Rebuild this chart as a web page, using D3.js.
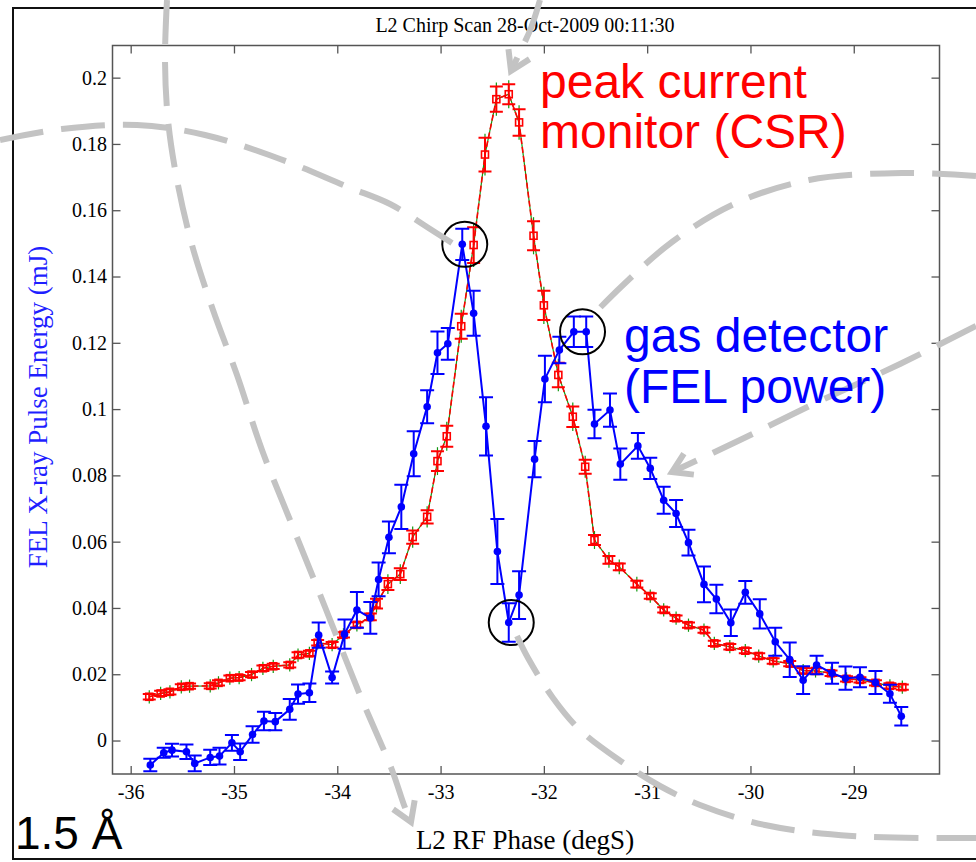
<!DOCTYPE html>
<html><head><meta charset="utf-8">
<script src="https://cdn.jsdelivr.net/npm/d3@7"></script>
<style>body{margin:0;background:#fff}svg{display:block}</style>
</head><body>
<svg id="c" width="976" height="862"></svg>
<script>
// ---------- data ----------
const titleText = "L2 Chirp Scan 28-Oct-2009 00:11:30";
const xLabelText = "L2 RF Phase (degS)";
const yLabelText = "FEL X-ray Pulse Energy (mJ)";
const xTicks = [-36, -35, -34, -33, -32, -31, -30, -29];
const yTicks = [0, 0.02, 0.04, 0.06, 0.08, 0.1, 0.12, 0.14, 0.16, 0.18, 0.2];

// gas detector (FEL power), blue
const gasPhase = [-35.81,-35.68,-35.60,-35.46,-35.38,-35.23,-35.14,-35.02,-34.94,-34.82,-34.71,-34.60,-34.46,-34.38,-34.27,-34.18,-34.05,-33.93,-33.81,-33.68,-33.60,-33.50,-33.38,-33.26,-33.13,-33.03,-32.93,-32.79,-32.68,-32.56,-32.45,-32.34,-32.24,-32.09,-31.99,-31.85,-31.71,-31.59,-31.51,-31.36,-31.26,-31.09,-30.97,-30.84,-30.72,-30.60,-30.45,-30.33,-30.19,-30.05,-29.91,-29.76,-29.62,-29.49,-29.36,-29.21,-29.08,-28.94,-28.79,-28.65,-28.54];
const gasEnergy = [-0.0074,-0.0037,-0.0029,-0.0034,-0.0069,-0.0051,-0.0047,-0.0007,-0.0034,0.0018,0.0059,0.0057,0.0094,0.0140,0.0144,0.0318,0.0190,0.0321,0.0394,0.0370,0.0486,0.0613,0.0705,0.0865,0.1007,0.1170,0.1197,0.1497,0.1289,0.0948,0.0570,0.0356,0.0439,0.0849,0.1091,0.1178,0.1233,0.1233,0.0955,0.0997,0.0834,0.0889,0.0821,0.0725,0.0685,0.0597,0.0471,0.0427,0.0355,0.0447,0.0382,0.0298,0.0244,0.0182,0.0228,0.0203,0.0188,0.0191,0.0175,0.0141,0.0073];
const gasErr = [0.0019,0.0015,0.0019,0.0022,0.0024,0.0023,0.0025,0.0024,0.0025,0.0025,0.0028,0.0026,0.0031,0.0029,0.0028,0.0038,0.0018,0.0044,0.0054,0.0048,0.0051,0.0048,0.0067,0.0068,0.0050,0.0064,0.0048,0.0047,0.0068,0.0088,0.0098,0.0058,0.0072,0.0055,0.0070,0.0040,0.0046,0.0046,0.0043,0.0050,0.0047,0.0039,0.0032,0.0041,0.0041,0.0039,0.0054,0.0043,0.0040,0.0034,0.0044,0.0042,0.0052,0.0042,0.0028,0.0032,0.0035,0.0030,0.0035,0.0027,0.0028];

// peak current monitor (CSR), red
const csrPhase = [-35.82,-35.71,-35.62,-35.51,-35.43,-35.23,-35.15,-35.04,-34.95,-34.83,-34.72,-34.62,-34.46,-34.38,-34.27,-34.19,-34.05,-33.94,-33.81,-33.68,-33.62,-33.51,-33.39,-33.27,-33.13,-33.03,-32.94,-32.80,-32.68,-32.57,-32.46,-32.34,-32.24,-32.10,-32.00,-31.86,-31.72,-31.60,-31.51,-31.37,-31.27,-31.10,-30.97,-30.84,-30.72,-30.60,-30.45,-30.35,-30.20,-30.05,-29.92,-29.78,-29.62,-29.49,-29.37,-29.22,-29.07,-28.94,-28.79,-28.65,-28.53];
const csrSignal = [0.0132,0.0142,0.0147,0.0162,0.0164,0.0165,0.0174,0.0188,0.0190,0.0199,0.0218,0.0224,0.0228,0.0258,0.0263,0.0295,0.0289,0.0319,0.0349,0.0373,0.0413,0.0472,0.0502,0.0614,0.0675,0.0843,0.0918,0.1250,0.1495,0.1768,0.1935,0.1950,0.1865,0.1523,0.1313,0.1103,0.0977,0.0826,0.0605,0.0545,0.0524,0.0472,0.0436,0.0394,0.0369,0.0348,0.0333,0.0293,0.0283,0.0271,0.0255,0.0240,0.0232,0.0211,0.0210,0.0203,0.0186,0.0183,0.0174,0.0165,0.0161];
const csrErr = [0.0008,0.0008,0.0008,0.0008,0.0008,0.0008,0.0008,0.0008,0.0008,0.0008,0.0008,0.0008,0.0008,0.0008,0.0008,0.0008,0.0008,0.0008,0.0008,0.0010,0.0015,0.0018,0.0018,0.0020,0.0020,0.0030,0.0032,0.0038,0.0054,0.0051,0.0038,0.0030,0.0040,0.0044,0.0044,0.0037,0.0031,0.0021,0.0015,0.0012,0.0010,0.0010,0.0008,0.0008,0.0008,0.0008,0.0008,0.0008,0.0008,0.0008,0.0008,0.0008,0.0008,0.0008,0.0008,0.0008,0.0008,0.0008,0.0008,0.0008,0.0008];

// highlighted points (circled)
const circledPhase = [-32.79, -31.65, -32.34];
const circledEnergy = [0.1497, 0.1233, 0.0356];

// annotation labels
const csrLabelLines = ["peak current", "monitor (CSR)"];
const gasLabelLines = ["gas detector", "(FEL power)"];
const waveLabel = "1.5 Å";

// ---------- drawing ----------
const svg = d3.select("#c");
const L = 112.5, R = 939.5, T = 45.5, B = 774;
const x = d3.scaleLinear().domain([-36.176, -28.17]).range([L, R]);
const y = d3.scaleLinear().domain([-0.0101, 0.2097]).range([B, T]);
const serif = "'Liberation Serif','Times New Roman',Times,serif";
const sans = "'Liberation Sans',Arial,Helvetica,sans-serif";
const axisCol = "#555";

// outer frame
svg.append("rect").attr("x", 13).attr("y", 8).attr("width", 1000).attr("height", 851)
  .attr("fill", "none").attr("stroke", "#111").attr("stroke-width", 2);

// axes
function styleAxis(g) {
  g.select(".domain").remove();
  g.selectAll(".tick line").attr("stroke", axisCol).attr("stroke-width", 1.3);
  g.selectAll("text").attr("font-family", serif).attr("font-size", 20).attr("fill", "#000");
}
svg.append("g").attr("transform", `translate(0,${B})`)
  .call(d3.axisBottom(x).tickValues(xTicks).tickSizeInner(-8).tickSizeOuter(0).tickPadding(11).tickFormat(d => String(d)))
  .call(styleAxis);
svg.append("g").attr("transform", `translate(0,${T})`)
  .call(d3.axisTop(x).tickValues(xTicks).tickSizeInner(-8).tickSizeOuter(0).tickFormat(""))
  .call(styleAxis);
svg.append("g").attr("transform", `translate(${L},0)`)
  .call(d3.axisLeft(y).tickValues(yTicks).tickSizeInner(-8).tickSizeOuter(0).tickPadding(5.5).tickFormat(d => d === 0 ? "0" : String(+d.toFixed(2))))
  .call(styleAxis);
svg.append("g").attr("transform", `translate(${R},0)`)
  .call(d3.axisRight(y).tickValues(yTicks).tickSizeInner(-8).tickSizeOuter(0).tickFormat(""))
  .call(styleAxis);
svg.append("rect").attr("x", L).attr("y", T).attr("width", R - L).attr("height", B - T)
  .attr("fill", "none").attr("stroke", axisCol).attr("stroke-width", 1.5);

// titles
svg.append("text").attr("x", 525).attr("y", 32).attr("text-anchor", "middle")
  .attr("font-family", serif).attr("font-size", 20).text(titleText);
svg.append("text").attr("x", 525).attr("y", 849).attr("text-anchor", "middle")
  .attr("font-family", serif).attr("font-size", 27).text(xLabelText);
svg.append("text").attr("transform", "translate(47,407) rotate(-90)").attr("text-anchor", "middle")
  .attr("font-family", serif).attr("font-size", 27).attr("fill", "#1f1fff").text(yLabelText);

// series data
const csr = csrPhase.map((p, i) => ({ p, v: csrSignal[i], e: csrErr[i] }));
const gas = gasPhase.map((p, i) => ({ p, v: gasEnergy[i], e: gasErr[i] }));
const line = d3.line().x(d => x(d.p)).y(d => y(d.v));

// CSR: green underlay
const gG = svg.append("g");
gG.append("path").datum(csr).attr("d", line).attr("fill", "none").attr("stroke", "#119911").attr("stroke-width", 1.2);
gG.selectAll("line").data(csr).join("line")
  .attr("x1", d => x(d.p)).attr("x2", d => x(d.p))
  .attr("y1", d => y(d.v + d.e + 0.0012)).attr("y2", d => y(d.v - d.e - 0.0012))
  .attr("stroke", "#119911").attr("stroke-width", 1.2);

// CSR red
const gR = svg.append("g");
gR.append("path").datum(csr).attr("d", line).attr("fill", "none").attr("stroke", "#ff0000")
  .attr("stroke-width", 1.6).attr("stroke-dasharray", "6,3");
const capR = 6.5;
gR.selectAll(".eb").data(csr).join("path").attr("class", "eb")
  .attr("d", d => {
    const cx = x(d.p), y1 = y(d.v + d.e), y2 = y(d.v - d.e);
    return `M${cx},${y1}V${y2}M${cx - capR},${y1}H${cx + capR}M${cx - capR},${y2}H${cx + capR}`;
  })
  .attr("fill", "none").attr("stroke", "#ff0000").attr("stroke-width", 2);
gR.selectAll(".mk").data(csr).join("rect").attr("class", "mk")
  .attr("x", d => x(d.p) - 3.5).attr("y", d => y(d.v) - 3.5).attr("width", 7).attr("height", 7)
  .attr("fill", "none").attr("stroke", "#ff0000").attr("stroke-width", 1.6);

// gas detector blue
const gB = svg.append("g");
gB.append("path").datum(gas).attr("d", line).attr("fill", "none").attr("stroke", "#0000ff").attr("stroke-width", 2);
const capB = 7;
gB.selectAll(".eb").data(gas).join("path").attr("class", "eb")
  .attr("d", d => {
    const cx = x(d.p), y1 = y(d.v + d.e), y2 = y(d.v - d.e);
    return `M${cx},${y1}V${y2}M${cx - capB},${y1}H${cx + capB}M${cx - capB},${y2}H${cx + capB}`;
  })
  .attr("fill", "none").attr("stroke", "#0000ff").attr("stroke-width", 2);
gB.selectAll("circle").data(gas).join("circle")
  .attr("cx", d => x(d.p)).attr("cy", d => y(d.v)).attr("r", 3.8).attr("fill", "#0000ff");

// circled highlights
svg.selectAll(".hl").data(circledPhase).join("circle").attr("class", "hl")
  .attr("cx", (d, i) => x(d) + 2.5).attr("cy", (d, i) => y(circledEnergy[i])).attr("r", 22.5)
  .attr("fill", "none").attr("stroke", "#000").attr("stroke-width", 2);

// grey dashed annotation curves (pixel paths, decorative)
const annotations = [
  { pts: [[167,0],[165,60],[168,120],[177,180],[192,245],[213,310],[237,375],[262,450],[290,520],[325,607],[360,695],[392,770],[404,805],[411,822]], arrow: true },
  { pts: [[0,140],[62,129],[137,125],[205,135],[280,159],[348,187],[390,204],[427,227],[452,243]], arrow: false },
  { pts: [[540,0],[531,28],[520,52],[511,71]], arrow: true },
  { pts: [[976,176],[902,173],[809,180],[734,204],[672,242],[622,286],[590,318]], arrow: false },
  { pts: [[976,326],[900,364],[820,401],[740,440],[672,472]], arrow: true },
  { pts: [[517,636],[528,658],[553,698],[580,730],[622,762],[660,786],[700,805],[765,825],[852,836],[976,838]], arrow: false }
];
const gA = svg.append("g");
const curve = d3.line().curve(d3.curveCatmullRom.alpha(0.5));
annotations.forEach(a => {
  gA.append("path").attr("d", curve(a.pts)).attr("fill", "none").attr("stroke", "#c3c3c3")
    .attr("stroke-width", 6).attr("stroke-dasharray", "44,18");
  if (a.arrow) {
    const n = a.pts.length, tip = a.pts[n - 1], prev = a.pts[n - 2];
    let dx = tip[0] - prev[0], dy = tip[1] - prev[1];
    const len = Math.hypot(dx, dy); dx /= len; dy /= len;
    const ang = 32 * Math.PI / 180, al = 22;
    const arm = s => [tip[0] - al * (dx * Math.cos(s * ang) - dy * Math.sin(s * ang)),
                      tip[1] - al * (dx * Math.sin(s * ang) + dy * Math.cos(s * ang))];
    gA.append("path").attr("d", d3.line()([arm(1), tip, arm(-1)]))
      .attr("fill", "none").attr("stroke", "#c3c3c3").attr("stroke-width", 6)
      .attr("stroke-linejoin", "miter");
  }
});

// big annotation labels
function twoLine(lines, xPos, y0, lh, col) {
  lines.forEach((s, i) => svg.append("text").attr("font-family", sans).attr("font-size", 48)
    .attr("fill", col).attr("x", xPos).attr("y", y0 + i * lh).text(s));
}
twoLine(csrLabelLines, 540, 97.5, 50, "#ff0000");
twoLine(gasLabelLines, 624, 351.5, 51, "#0000ff");
svg.append("text").attr("x", 15).attr("y", 849).attr("font-family", sans).attr("font-size", 46)
  .attr("fill", "#000").text(waveLabel);
</script>
</body></html>
